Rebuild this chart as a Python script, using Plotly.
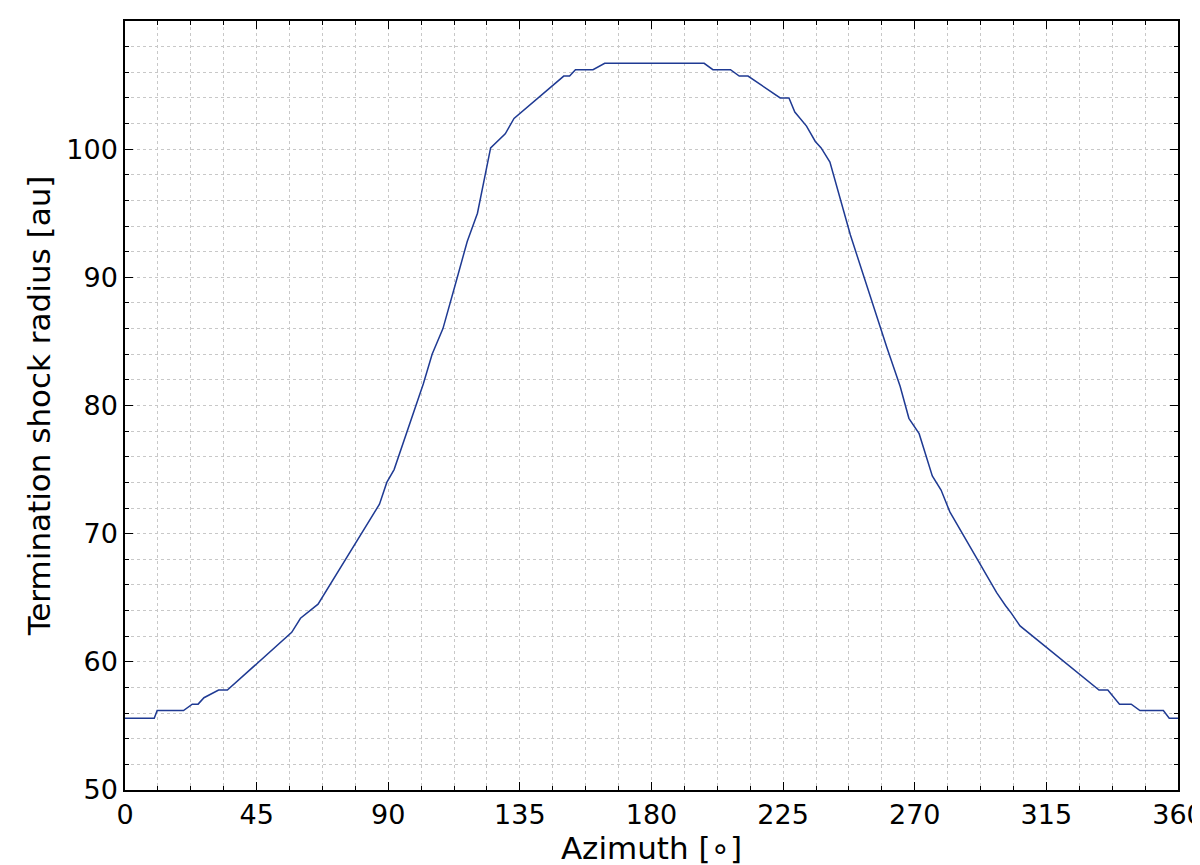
import plotly.graph_objects as go

azimuth = [0, 10, 11, 20, 23, 25, 27, 32, 35, 57, 60, 66, 87, 89.5, 92, 102, 105, 108.7, 113, 117,
           120.5, 123, 125, 130, 133, 150, 152, 154, 160, 164, 198, 201, 207, 210, 213, 224, 227, 229,
           233, 236, 238, 241, 248, 260.5, 265, 268, 271.5, 276, 279, 282, 296, 298, 301, 303, 306,
           333, 336, 340, 344, 347, 355, 357, 360]
radius = [55.6, 55.6, 56.2, 56.2, 56.7, 56.7, 57.2, 57.8, 57.8, 62.3, 63.4, 64.5, 72.3, 74.0, 75.0,
          81.7, 84.0, 86.0, 89.5, 92.8, 95.0, 98.0, 100.1, 101.2, 102.4, 105.7, 105.7, 106.2, 106.2,
          106.7, 106.7, 106.2, 106.2, 105.7, 105.7, 104.0, 104.0, 102.9, 101.8, 100.6, 100.1, 99.0,
          93.3, 84.5, 81.5, 79.0, 77.8, 74.5, 73.4, 71.7, 66.1, 65.4, 64.4, 63.8, 62.8, 57.8, 57.8,
          56.7, 56.7, 56.2, 56.2, 55.6, 55.6]
x_ticks = [0, 45, 90, 135, 180, 225, 270, 315, 360]
y_ticks = [50, 60, 70, 80, 90, 100, 110]

fig = go.Figure()
fig.add_trace(go.Scatter(x=azimuth, y=radius, mode="lines",
                         line=dict(color="#1f3a93", width=1.5)))

axis_common = dict(
    showline=True, linecolor="black", linewidth=1.5, mirror="ticks",
    ticks="inside", ticklen=8, tickwidth=1.2, tickcolor="black",
    gridcolor="#c8c8c8", griddash="dot", gridwidth=1, zeroline=False,
    tickfont=dict(family="DejaVu Sans", size=27, color="black"),
    automargin=False,
)
title_font = dict(family="DejaVu Sans", size=31, color="black")
fig.update_xaxes(range=[0, 360.001], tickvals=x_ticks,
                 minor=dict(dtick=11.25, tick0=0, ticks="inside", ticklen=4, showgrid=True,
                            gridcolor="#c8c8c8", griddash="dot", tickcolor="black"),
                 title=dict(text="Azimuth [∘]", font=title_font, standoff=2),
                 **axis_common)
fig.update_yaxes(range=[50, 110.001], tickvals=y_ticks,
                 minor=dict(dtick=2, tick0=50, ticks="inside", ticklen=4, showgrid=True,
                            gridcolor="#c8c8c8", griddash="dot", tickcolor="black"),
                 title=dict(text="Termination shock radius [au]", font=title_font, standoff=6),
                 **axis_common)
fig.update_layout(width=1200, height=865, plot_bgcolor="white", paper_bgcolor="white",
                  showlegend=False, margin=dict(l=117, r=30, t=13, b=83))
fig.write_html("out.html")
